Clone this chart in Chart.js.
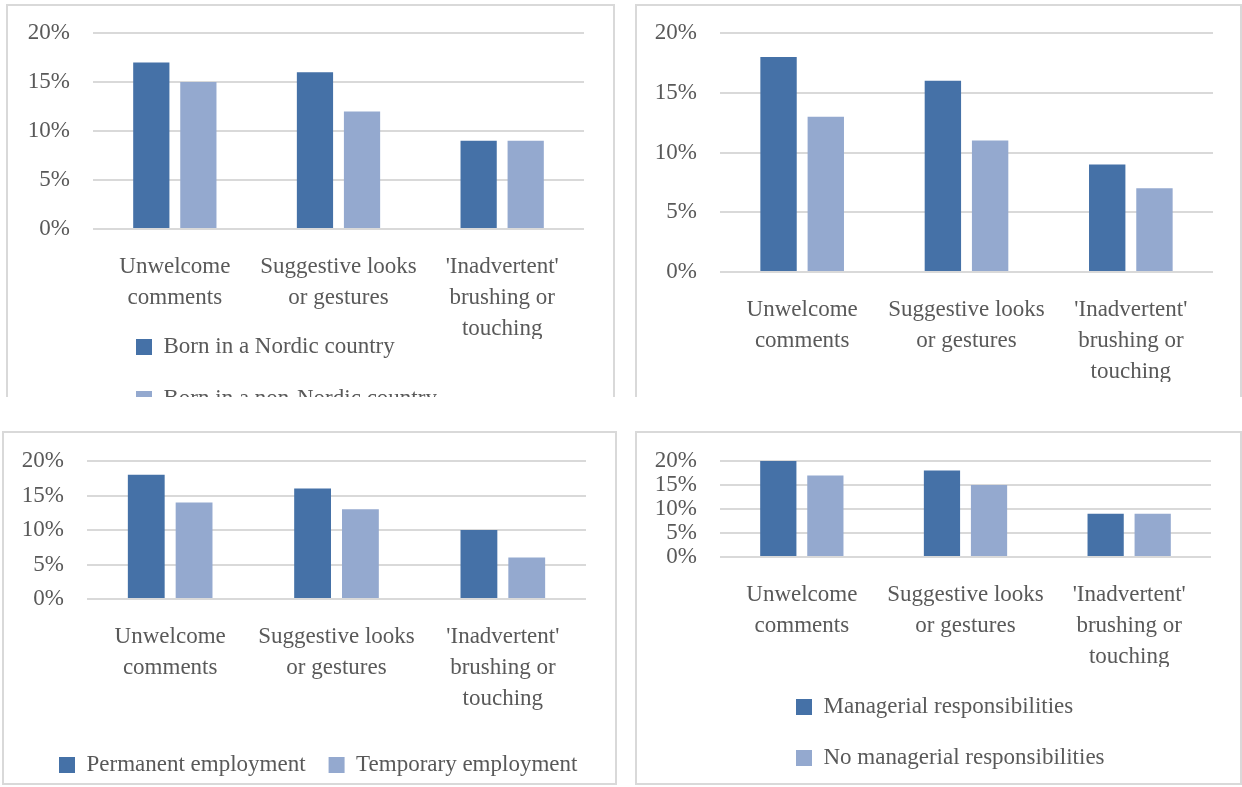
<!DOCTYPE html>
<html>
<head>
<meta charset="utf-8">
<script src="https://cdn.jsdelivr.net/npm/chart.js@4"></script>
<style>
  body { margin: 0; background: #fff; width: 1242px; height: 787px; position: relative; overflow: hidden; }
  .panel { position: absolute; border: 2px solid #D9D9D9; overflow: hidden; background: #fff; }
  .panel canvas { position: absolute; left: 0; top: 0; }
</style>
</head>
<body>
<div class="panel" style="left:6px; top:4px; width:605px; height:391px; border-bottom:none;"><canvas id="born" width="605" height="447"></canvas></div>
<div class="panel" style="left:635px; top:4px; width:603px; height:391px; border-bottom:none;"><canvas id="chart2" width="603" height="391"></canvas></div>
<div class="panel" style="left:2px; top:431px; width:611px; height:350px;"><canvas id="employment" width="611" height="354"></canvas></div>
<div class="panel" style="left:635px; top:431px; width:603px; height:350px;"><canvas id="managerial" width="603" height="350"></canvas></div>

<script>
// categories shared by all four charts
var categories = [['Unwelcome', 'comments'], ['Suggestive looks', 'or gestures'], ["'Inadvertent'", 'brushing or', 'touching']];
var yTicks = [0, 5, 10, 15, 20];

// top left
var bornNordic = [17, 16, 9];
var bornNonNordic = [15, 12, 9];
// top right (legend not visible)
var chart2SeriesA = [18, 16, 9];
var chart2SeriesB = [13, 11, 7];
// bottom left
var permanent = [18, 16, 10];
var temporary = [14, 13, 6];
// bottom right
var managerial = [20, 18, 9];
var noManagerial = [17, 15, 9];

var dark = '#4571A7';
var light = '#94A9CF';
var textColor = '#595959';

Chart.defaults.font.family = "'Liberation Serif', serif";
Chart.defaults.color = textColor;

// moves the legend so its items sit where they do in the picture
var legendPlace = {
    id: 'legendPlace',
    afterLayout: function (chart, args, opts) {
        var lg = chart.legend;
        if (lg && opts.left !== undefined) {
            var h = lg.bottom - lg.top;
            lg.left = opts.left;
            lg.right = opts.right;
            lg.top = opts.top;
            lg.bottom = opts.top + h;
        }
    }
};

function makeChart(id, names, seriesA, seriesB, s) {
    var ctx = document.getElementById(id).getContext('2d');
    return new Chart(ctx, {
        type: 'bar',
        plugins: [legendPlace],
        data: {
            labels: categories,
            datasets: [{
                label: names[0],
                backgroundColor: dark,
                data: seriesA
            }, {
                label: names[1],
                backgroundColor: light,
                data: seriesB
            }]
        },
        options: {
            responsive: false,
            animation: false,
            devicePixelRatio: 1,
            categoryPercentage: 0.575,
            barPercentage: 0.77,
            layout: { padding: { top: s.top, right: s.right, left: 0, bottom: s.bottom || 0 } },
            scales: {
                x: {
                    grid: { display: false },
                    border: { display: false },
                    ticks: { padding: 14, maxRotation: 0, autoSkip: false, color: textColor,
                             font: { size: 23, lineHeight: 1.348 } },
                    afterFit: function (scale) { scale.height = s.xHeight; }
                },
                y: {
                    min: 0,
                    max: 20,
                    border: { display: false },
                    grid: { color: '#D9D9D9', lineWidth: 2, drawTicks: false },
                    afterBuildTicks: function (scale) {
                        scale.ticks = yTicks.map(function (v) { return { value: v }; });
                    },
                    ticks: { padding: 23, autoSkip: false, color: textColor, font: { size: 23 },
                             callback: function (v) { return v + '%'; } },
                    afterFit: function (scale) {
                        scale.width = s.yWidth;
                        scale.paddingTop = 0;
                        scale.paddingBottom = 0;
                    }
                }
            },
            plugins: {
                tooltip: { enabled: false },
                legend: {
                    display: s.legend,
                    position: 'bottom',
                    align: 'start',
                    labels: { boxWidth: 16, boxHeight: 16, padding: s.legendPad || 10,
                              color: textColor, font: { size: 23 } }
                },
                legendPlace: { left: s.legendLeft, right: s.legendRight, top: s.legendTop }
            }
        }
    });
}

makeChart('born', ['Born in a Nordic country', 'Born in a non-Nordic country'], bornNordic, bornNonNordic,
    { top: 27, right: 29, yWidth: 85, xHeight: 110, legend: true, legendPad: 29,
      legendLeft: 99, legendRight: 605, legendTop: 300.5 });

makeChart('chart2', ['', ''], chart2SeriesA, chart2SeriesB,
    { top: 27, right: 27, bottom: 15, yWidth: 83, xHeight: 110, legend: false });

makeChart('employment', ['Permanent employment', 'Temporary employment'], permanent, temporary,
    { top: 28, right: 29, yWidth: 83, xHeight: 132, legend: true, legendPad: 23,
      legendLeft: 32, legendRight: 611, legendTop: 297.5 });

makeChart('managerial', ['Managerial responsibilities', 'No managerial responsibilities'], managerial, noManagerial,
    { top: 28, right: 29, bottom: 4, yWidth: 83, xHeight: 110, legend: true, legendPad: 28,
      legendLeft: 131, legendRight: 603, legendTop: 234.5 });
</script>
</body>
</html>
